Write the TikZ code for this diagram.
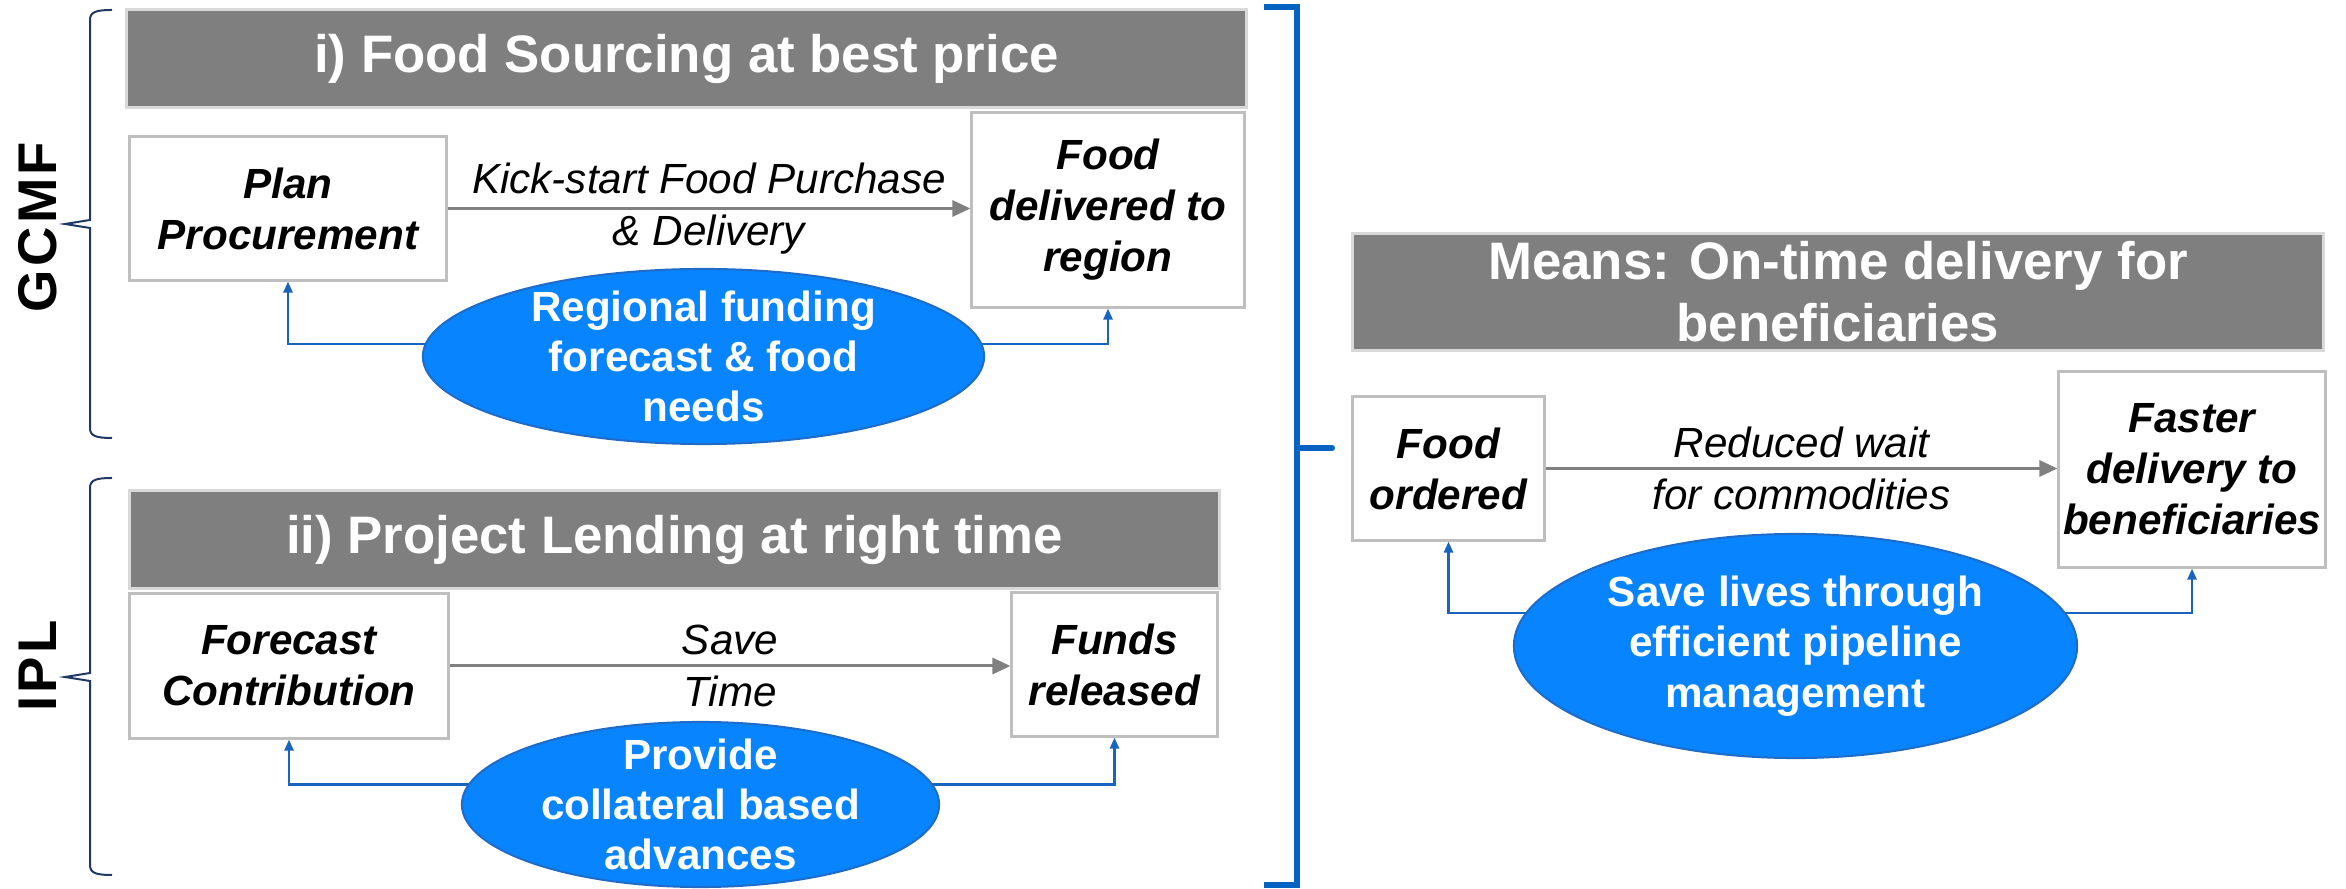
\documentclass[tikz,border=0pt]{standalone}
\usepackage{fontspec}
\setmainfont{Liberation Sans}
\usetikzlibrary{arrows.meta,shapes.geometric,backgrounds}
\definecolor{barGray}{RGB}{127,127,127}
\definecolor{barEdge}{RGB}{217,217,217}
\definecolor{boxEdge}{RGB}{191,191,191}
\definecolor{flowGray}{RGB}{128,128,128}
\definecolor{ovalBlue}{RGB}{8,132,255}
\definecolor{ovalEdge}{RGB}{30,108,200}
\definecolor{linkBlue}{RGB}{25,100,190}
\definecolor{brackBlue}{RGB}{5,99,193}
\definecolor{braceNavy}{RGB}{31,56,100}

\begin{document}
\begin{tikzpicture}[x=0.01cm,y=-0.01cm,
	headbar/.style={rectangle,fill=barGray,draw=barEdge,line width=0.03cm,inner sep=0pt,text=white,align=center,font=\fontsize{15}{17.6}\selectfont\bfseries},
	itembox/.style={rectangle,fill=white,draw=boxEdge,line width=0.03cm,inner sep=0pt,align=center,font=\fontsize{12}{14.5}\selectfont\bfseries\itshape},
	goaloval/.style={ellipse,fill=ovalBlue,draw=ovalEdge,line width=0.02cm,inner sep=0pt},
	goaltext/.style={text=white,align=center,font=\fontsize{12}{14.3}\selectfont\bfseries},
	flowarrow/.style={draw=flowGray,line width=0.03cm,-{Triangle[length=0.18cm,width=0.16cm]}},
	flowtext/.style={align=center,font=\fontsize{12}{15}\selectfont\itshape},
	feedlink/.style={draw=linkBlue,line width=0.025cm,-{Triangle[length=0.11cm,width=0.09cm]}},
	groupbrace/.style={draw=braceNavy,line width=0.02cm,line join=miter},
	grouplabel/.style={rotate=90,font=\fontsize{15.5}{18}\selectfont\bfseries\addfontfeature{LetterSpace=6}},
	bracket/.style={draw=brackBlue,line width=0.06cm}]
	\useasboundingbox (0,0) rectangle (2346,889);
	\node[headbar,minimum width=11.19cm,minimum height=0.97cm] (T1) at (686.5,58.5) {i) Food Sourcing at best price};
	\node[headbar,minimum width=10.89cm,minimum height=0.97cm] (T2) at (674.5,539.5) {ii) Project Lending at right time};
	\node[headbar,minimum width=9.70cm,minimum height=1.16cm] (T3) at (1838,292) {Means: On-time delivery for\\beneficiaries};
	\node[itembox,minimum width=3.16cm,minimum height=1.43cm] (A) at (288,208.5) {Plan\\Procurement};
	\node[itembox,minimum width=2.72cm,minimum height=1.94cm] (B) at (1108,210) {Food\\delivered to\\region};
	\node[itembox,minimum width=3.18cm,minimum height=1.44cm] (C) at (289,666) {Forecast\\Contribution};
	\node[itembox,minimum width=2.05cm,minimum height=1.43cm] (D) at (1114.5,664.5) {Funds\\released};
	\node[itembox,minimum width=1.91cm,minimum height=1.43cm] (E) at (1448.5,468.5) {Food\\ordered};
	\node[itembox,minimum width=2.66cm,minimum height=1.95cm] (F) at (2192,469.5) {Faster\\delivery to\\beneficiaries};
	\node[goaloval,minimum width=5.61cm,minimum height=1.75cm,label={[goaltext]center:Regional funding\\forecast \& food\\needs}] (O1) at (703.5,356.5) {};
	\node[goaloval,minimum width=4.77cm,minimum height=1.65cm,label={[goaltext]center:Provide\\collateral based\\advances}] (O2) at (700.5,804.5) {};
	\node[goaloval,minimum width=5.63cm,minimum height=2.24cm,label={[goaltext]center:Save lives through\\efficient pipeline\\management}] (O3) at (1795.5,646) {};
	\draw[flowarrow] (A) -- (A -| B.west) node[midway,flowtext] {Kick-start Food Purchase\\\& Delivery};
	\draw[flowarrow] (C) -- (C -| D.west) node[midway,flowtext] {Save\\Time};
	\draw[flowarrow] (E) -- (E -| F.west) node[midway,flowtext] {Reduced wait\\for commodities};
	\begin{scope}[on background layer]
		\draw[feedlink] ([yshift=0.125cm]O1.center) -| (A.south);
		\draw[feedlink] ([yshift=0.125cm]O1.center) -| (B.south);
		\draw[feedlink] ([yshift=0.2cm]O2.center) -| (C.south);
		\draw[feedlink] ([yshift=0.2cm]O2.center) -| (D.south);
		\draw[feedlink] ([yshift=0.33cm]O3.center) -| (E.south);
		\draw[feedlink] ([yshift=0.33cm]O3.center) -| (F.south);
	\end{scope}
	\draw[groupbrace] (112,10) .. controls (96,10) and (90,12) .. (90,20) -- (90,220) -- (65,224) -- (90,228) -- (90,428) .. controls (90,436) and (96,438) .. (112,438);
	\draw[groupbrace] (112,478) .. controls (96,478) and (90,480) .. (90,488) -- (90,673) -- (65,677) -- (90,681) -- (90,865) .. controls (90,873) and (96,875) .. (112,875);
	\node[grouplabel] (G1) at (37.5,227) {GCMF};
	\node[grouplabel] (G2) at (37.5,666) {IPL};
	\draw[bracket] (1264,7) -- (1297,7) -- (1297,885) -- (1264,885);
	\draw[bracket,line cap=round] (1297,448) -- (1332,448);
\end{tikzpicture}
\end{document}
